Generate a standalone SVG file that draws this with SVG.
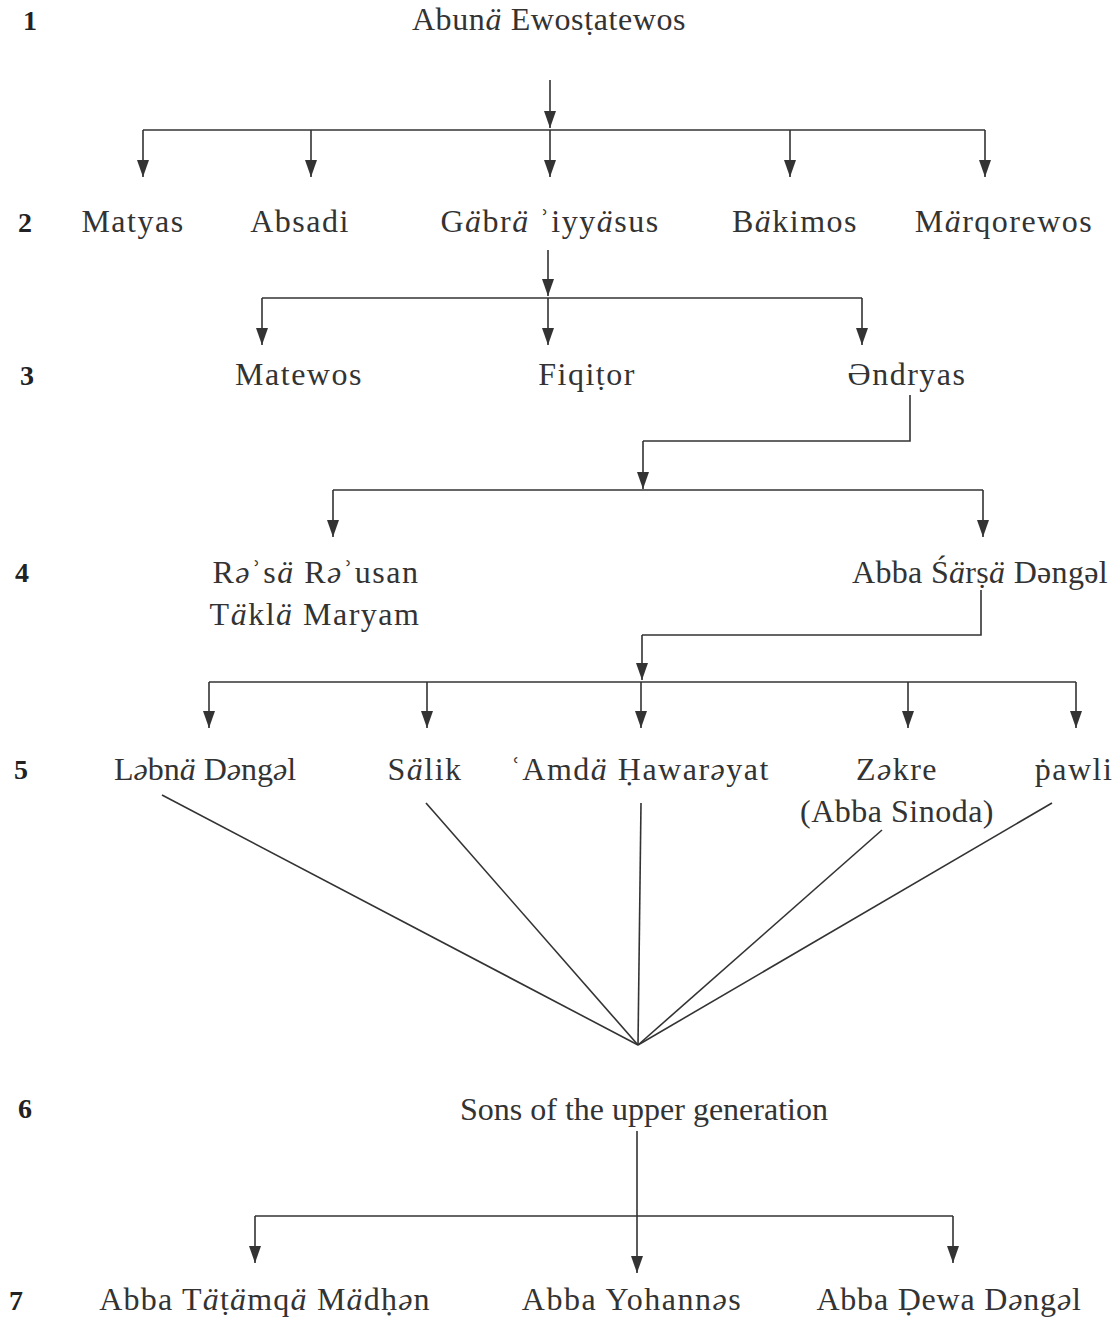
<svg xmlns="http://www.w3.org/2000/svg" width="1117" height="1321" viewBox="0 0 1117 1321">
<defs>
<marker id="ah" markerUnits="userSpaceOnUse" markerWidth="18" markerHeight="12" viewBox="0 0 18 12" refX="17" refY="6" orient="auto">
<path d="M0,0 L17,6 L0,12 Z" fill="#333"/>
</marker>
<style>
.n{font-family:"Liberation Serif","Times New Roman",serif;font-size:32px;fill:#333;letter-spacing:1.5px;text-anchor:middle}
.c{font-family:"Liberation Serif","Times New Roman",serif;font-size:32px;fill:#333;text-anchor:middle}
.r{font-family:"Liberation Serif","Times New Roman",serif;font-size:28px;font-weight:bold;fill:#222;text-anchor:middle}
.i{font-style:italic}
.l{stroke:#333;stroke-width:1.6;fill:none}
.a{stroke:#333;stroke-width:1.6;fill:none;marker-end:url(#ah)}
</style>
</defs>
<rect width="1117" height="1321" fill="#fff"/>
<g id="rows">
<text class="r" x="30" y="30">1</text>
<text class="r" x="25" y="232">2</text>
<text class="r" x="27" y="385">3</text>
<text class="r" x="22" y="582">4</text>
<text class="r" x="21" y="779">5</text>
<text class="r" x="25" y="1118">6</text>
<text class="r" x="16" y="1310">7</text>
</g>
<g id="n1"><text class="c" x="549" y="30" style="letter-spacing:0.6px">Abun<tspan class="i">ä</tspan> Ewosṭatewos</text></g>
<g id="n2a"><text class="n" x="133" y="232">Matyas</text></g>
<g id="n2b"><text class="n" x="300" y="232">Absadi</text></g>
<g id="n2c"><text class="n" x="550" y="232">G<tspan class="i">ä</tspan>br<tspan class="i">ä</tspan> ʾiyy<tspan class="i">ä</tspan>sus</text></g>
<g id="n2d"><text class="n" x="795" y="232">B<tspan class="i">ä</tspan>kimos</text></g>
<g id="n2e"><text class="n" x="1004" y="232">M<tspan class="i">ä</tspan>rqorewos</text></g>
<g id="n3a"><text class="n" x="299" y="385">Matewos</text></g>
<g id="n3b"><text class="n" x="587" y="385">Fiqiṭor</text></g>
<g id="n3c"><text class="n" x="907" y="385">Əndryas</text></g>
<g id="n4a"><text class="n" x="316" y="583">R<tspan class="i">ə</tspan>ʾs<tspan class="i">ä</tspan> R<tspan class="i">ə</tspan>ʾusan</text><text class="n" x="315" y="625">T<tspan class="i">ä</tspan>kl<tspan class="i">ä</tspan> Maryam</text></g>
<g id="n4b"><text class="n" x="980" y="583" style="letter-spacing:0.3px">Abba Ś<tspan class="i">ä</tspan>rṣ<tspan class="i">ä</tspan> Dəngəl</text></g>
<g id="n5a"><text class="n" x="205" y="780" style="letter-spacing:0px">L<tspan class="i">ə</tspan>bn<tspan class="i">ä</tspan> D<tspan class="i">ə</tspan>ng<tspan class="i">ə</tspan>l</text></g>
<g id="n5b"><text class="n" x="425" y="780">S<tspan class="i">ä</tspan>lik</text></g>
<g id="n5c"><text class="n" x="640" y="780">ʿAmd<tspan class="i">ä</tspan> Ḥawar<tspan class="i">ə</tspan>yat</text></g>
<g id="n5d"><text class="n" x="897" y="780">Z<tspan class="i">ə</tspan>kre</text><text class="n" x="897" y="822" style="letter-spacing:0.5px">(Abba Sinoda)</text></g>
<g id="n5e"><text class="n" x="1074" y="780">ṗawli</text></g>
<g id="n6"><text class="c" x="644" y="1120">Sons of the upper generation</text></g>
<g id="n7a"><text class="n" x="265" y="1310" style="letter-spacing:1.2px">Abba T<tspan class="i">ä</tspan>ṭ<tspan class="i">ä</tspan>mq<tspan class="i">ä</tspan> M<tspan class="i">ä</tspan>dḥ<tspan class="i">ə</tspan>n</text></g>
<g id="n7b"><text class="n" x="632" y="1310">Abba Yohann<tspan class="i">ə</tspan>s</text></g>
<g id="n7c"><text class="n" x="949" y="1310" style="letter-spacing:0.8px">Abba Ḍewa D<tspan class="i">ə</tspan>ng<tspan class="i">ə</tspan>l</text></g>
<g id="connectors">
<path class="a" d="M550,80 V128"/>
<path class="l" d="M143,130 H985"/>
<path class="a" d="M143,130 V177"/>
<path class="a" d="M311,130 V177"/>
<path class="a" d="M550,130 V177"/>
<path class="a" d="M790,130 V177"/>
<path class="a" d="M985,130 V177"/>
<path class="a" d="M548,250 V296"/>
<path class="l" d="M262,298 H862"/>
<path class="a" d="M262,298 V345"/>
<path class="a" d="M548,298 V345"/>
<path class="a" d="M862,298 V345"/>
<path class="l" d="M910,395 V441 H643"/>
<path class="a" d="M643,441 V489"/>
<path class="l" d="M333,490 H983"/>
<path class="a" d="M333,490 V537"/>
<path class="a" d="M983,490 V537"/>
<path class="l" d="M981,590 V635 H642"/>
<path class="a" d="M642,635 V680"/>
<path class="l" d="M209,682 H1076"/>
<path class="a" d="M209,682 V728"/>
<path class="a" d="M427,682 V728"/>
<path class="a" d="M641,682 V728"/>
<path class="a" d="M908,682 V728"/>
<path class="a" d="M1076,682 V728"/>
<path class="l" d="M162,795 L638,1045"/>
<path class="l" d="M426,803 L638,1045"/>
<path class="l" d="M641,803 L638,1045"/>
<path class="l" d="M882,830 L638,1045"/>
<path class="l" d="M1052,803 L638,1045"/>
<path class="a" d="M637,1131 V1273"/>
<path class="l" d="M255,1216 H953"/>
<path class="a" d="M255,1216 V1263"/>
<path class="a" d="M953,1216 V1263"/>
</g>
</svg>
